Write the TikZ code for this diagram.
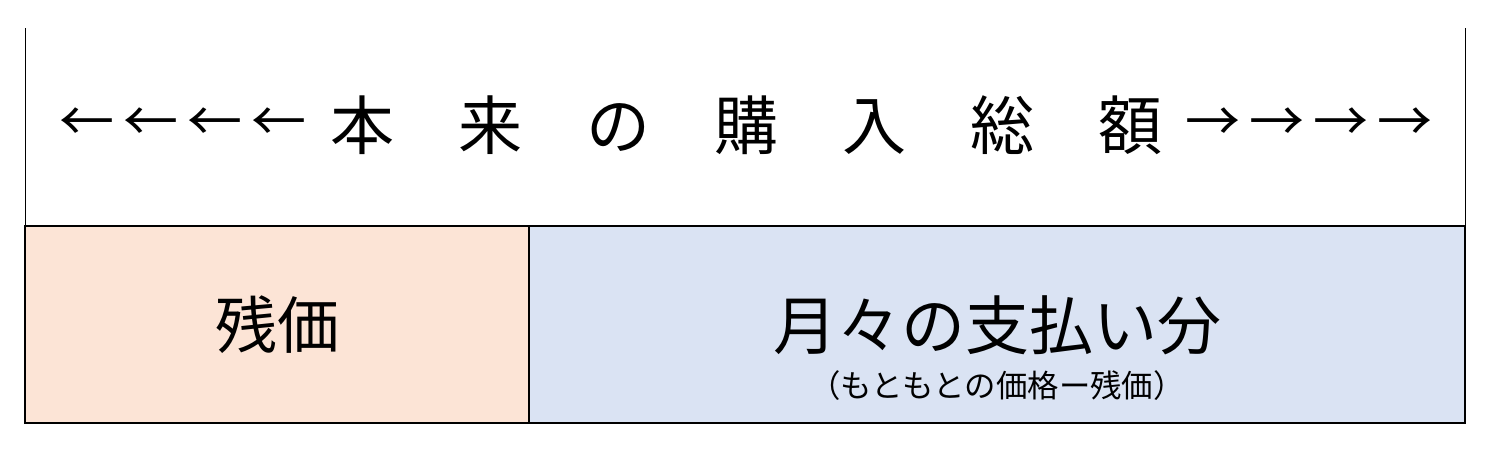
\documentclass[tikz,border=0pt]{standalone}
\usepackage{fontspec}
\setmainfont{Noto Sans CJK JP}
\usepackage{xcolor}
\usetikzlibrary{positioning}
\definecolor{zankafill}{HTML}{FCE4D6}
\definecolor{getsugakufill}{HTML}{DAE3F3}

\begin{document}
\begin{tikzpicture}[x=0.5pt,y=-0.5pt,
		cell/.style={draw,line width=1pt,minimum height=98.5pt,inner sep=0pt,outer sep=0pt,anchor=north west,font=\fontsize{31}{31}\selectfont},
		big/.style={font=\fontsize{32}{32}\selectfont},
		small/.style={font=\fontsize{15.7}{15.7}\selectfont},
		yajirushi/.style={inner sep=0pt,font=\fontsize{27.5}{27.5}\selectfont}]
		\useasboundingbox (0,0) rectangle (1493,453);
		\node[cell,fill=zankafill,minimum width=252pt] (zan) at (25,226) {残価};
		\node[cell,fill=getsugakufill,minimum width=468pt] (getsu) at (zan.north east) {};
		\node[big] (shiharai) at (997,325) {月々の支払い分};
		\node[small] (naiyou) at (997,386) {（もともとの価格ー残価）};
		\draw[line width=0.5pt] (zan.north west) -- ++(0,-198);
		\draw[line width=0.5pt] (getsu.north east) -- ++(0,-198);
		\node[big] (sougaku) at (746,125) {本　来　の　購　入　総　額};
		\node[yajirushi,anchor=east] (hidari) at (307,125) {←\kern4.5pt←\kern4.5pt←\kern4.5pt←};
		\node[yajirushi,anchor=west] (migi) at (1185,125) {→\kern4.5pt→\kern4.5pt→\kern4.5pt→};
	\end{tikzpicture}
\end{document}
